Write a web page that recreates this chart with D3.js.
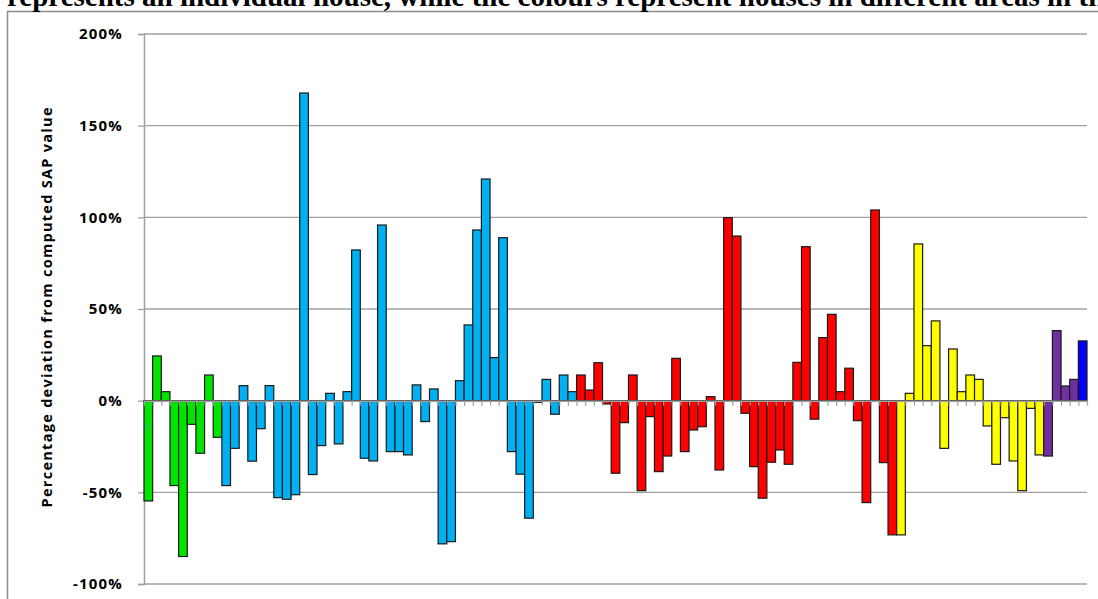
<!DOCTYPE html>
<html>
<head>
<meta charset="utf-8">
<script src="https://cdn.jsdelivr.net/npm/d3@7"></script>
<style>
  html, body { margin: 0; padding: 0; background: #fff; overflow: hidden; }
  svg { display: block; }
</style>
</head>
<body>
<script>
// ---- Data (percentage deviation from computed SAP value, one bar per house) ----
const titleText = "represents an individual house, while the colours represent houses in different areas in the";
const yAxisTitle = "Percentage deviation from computed SAP value";
const yTickValues = [-100, -50, 0, 50, 100, 150, 200];

const areaGreen = [-54.7, 24.4, 4.9, -46.3, -85, -12.9, -28.7, 14, -20];
const areaLightBlue = [-46.3, -26, 8.2, -33, -15.3, 8.2, -52.9, -53.8, -51.3, 167.8,
  -40.3, -24.5, 4.0, -23.6, 4.9, 82.2, -31.4, -32.9, 95.8, -27.8,
  -27.8, -29.6, 8.6, -11.4, 6.4, -78.1, -76.9, 10.9, 41.3, 93.1,
  120.9, 23.5, 88.9, -27.8, -40.1, -64.1, -0.9, 11.6, -7.4, 14, 4.9];
const areaRed = [14, 5.8, 20.7, -1.8, -39.6, -12, 14, -49.1, -8.7, -38.7,
  -30.2, 23.1, -27.8, -16, -14.2, 2.2, -37.8, 99.8, 89.8, -6.9,
  -36, -53.2, -33.6, -26.9, -34.7, 20.9, 84, -10.1, 34.4, 47.1,
  4.9, 17.7, -10.9, -55.6, 104, -33.8, -73.2];
const areaYellow = [-73.2, 4, 85.5, 30, 43.5, -26, 28.2, 4.9, 14, 11.6,
  -13.8, -34.7, -9.3, -32.9, -49.1, -4.2, -29.6];
const areaPurple = [-30.2, 38.2, 8, 11.6];
const areaBlue = [32.6];

const areaKeys = ["green", "lightblue", "red", "yellow", "purple", "blue"];
const areaSeries = [areaGreen, areaLightBlue, areaRed, areaYellow, areaPurple, areaBlue];

// ---- Styles ----
const areaColors = {
  green: "#00e400", lightblue: "#00b0f0", red: "#ff0000",
  yellow: "#ffff00", purple: "#7030a0", blue: "#0000ff"
};

// Build flat table
const rows = [];
areaSeries.forEach((vals, gi) => {
  vals.forEach(v => rows.push({ house: rows.length + 1, area: areaKeys[gi], value: v }));
});
const categories = rows.map(r => r.house);

const W = 1098, H = 599;
const svg = d3.select("body").append("svg").attr("width", W).attr("height", H);

// outer chart frame (extends beyond the view on right/bottom)
svg.append("rect")
  .attr("x", 7.5).attr("y", 11.5).attr("width", 1200).attr("height", 800)
  .attr("fill", "#fff").attr("stroke", "#8c8c8c").attr("stroke-width", 1.5);

// title fragment at top (cut off, as in the source)
svg.append("text")
  .attr("x", 7).attr("y", 6)
  .attr("font-family", "'Liberation Serif', 'DejaVu Serif', serif")
  .attr("font-weight", "bold").attr("font-size", 29)
  .attr("fill", "#000")
  .text(titleText);

const plotLeft = 144, plotRight = 1087, plotTop = 34, plotBottom = 584;

const x = d3.scaleBand().domain(categories).range([plotLeft, plotRight]).padding(0);
const xEdge = d3.scaleLinear().domain([0, categories.length]).range([plotLeft, plotRight]);
const y = d3.scaleLinear().domain([-100, 200]).range([plotBottom, plotTop]);

// gridlines
svg.append("g").selectAll("line").data(yTickValues.filter(d => d !== 0)).join("line")
  .attr("x1", plotLeft).attr("x2", plotRight)
  .attr("y1", d => y(d)).attr("y2", d => y(d))
  .attr("stroke", "#a0a0a0").attr("stroke-width", 1.3);

// y axis
const yAxis = svg.append("g")
  .attr("transform", `translate(${plotLeft},0)`)
  .call(d3.axisLeft(y).tickValues(yTickValues).tickFormat(d => d + "%").tickSize(6).tickPadding(15));
yAxis.select(".domain").attr("stroke", "#a0a0a0").attr("stroke-width", 1.5);
yAxis.selectAll(".tick line").attr("stroke", "#a0a0a0").attr("stroke-width", 1.3);
yAxis.selectAll(".tick text")
  .attr("font-family", "'Open Sans', 'Liberation Sans', sans-serif")
  .attr("font-weight", "bold").attr("font-size", 15)
  .attr("letter-spacing", 1.2)
  .attr("fill", "#000");

// bars
svg.append("g").selectAll("rect").data(rows).join("rect")
  .attr("x", d => x(d.house))
  .attr("width", x.bandwidth())
  .attr("y", d => y(Math.max(0, d.value)))
  .attr("height", d => Math.abs(y(d.value) - y(0)))
  .attr("fill", d => areaColors[d.area])
  .attr("stroke", "#1a1a1a").attr("stroke-width", 1.2);

// category axis along zero
const xAxis = svg.append("g")
  .attr("transform", `translate(0,${y(0)})`)
  .call(d3.axisBottom(xEdge).tickValues(d3.range(categories.length + 1)).tickFormat("").tickSizeInner(5).tickSizeOuter(0));
xAxis.select(".domain").attr("stroke", "#a0a0a0").attr("stroke-width", 1.5);
xAxis.selectAll(".tick line").attr("stroke", "#a0a0a0").attr("stroke-width", 1.2);

// small stray label near first bar
svg.append("text")
  .attr("x", 145).attr("y", 431)
  .attr("font-family", "'Open Sans', sans-serif").attr("font-size", 10)
  .attr("fill", "#5f9fb3").text("1");

// y axis title
svg.append("text")
  .attr("transform", `translate(52,${(508 + 107) / 2}) rotate(-90)`)
  .attr("text-anchor", "middle")
  .attr("font-family", "'Open Sans', 'Liberation Sans', sans-serif")
  .attr("font-weight", "bold").attr("font-size", 14.5)
  .attr("textLength", 400).attr("lengthAdjust", "spacing")
  .attr("fill", "#000")
  .text(yAxisTitle);
</script>
</body>
</html>
